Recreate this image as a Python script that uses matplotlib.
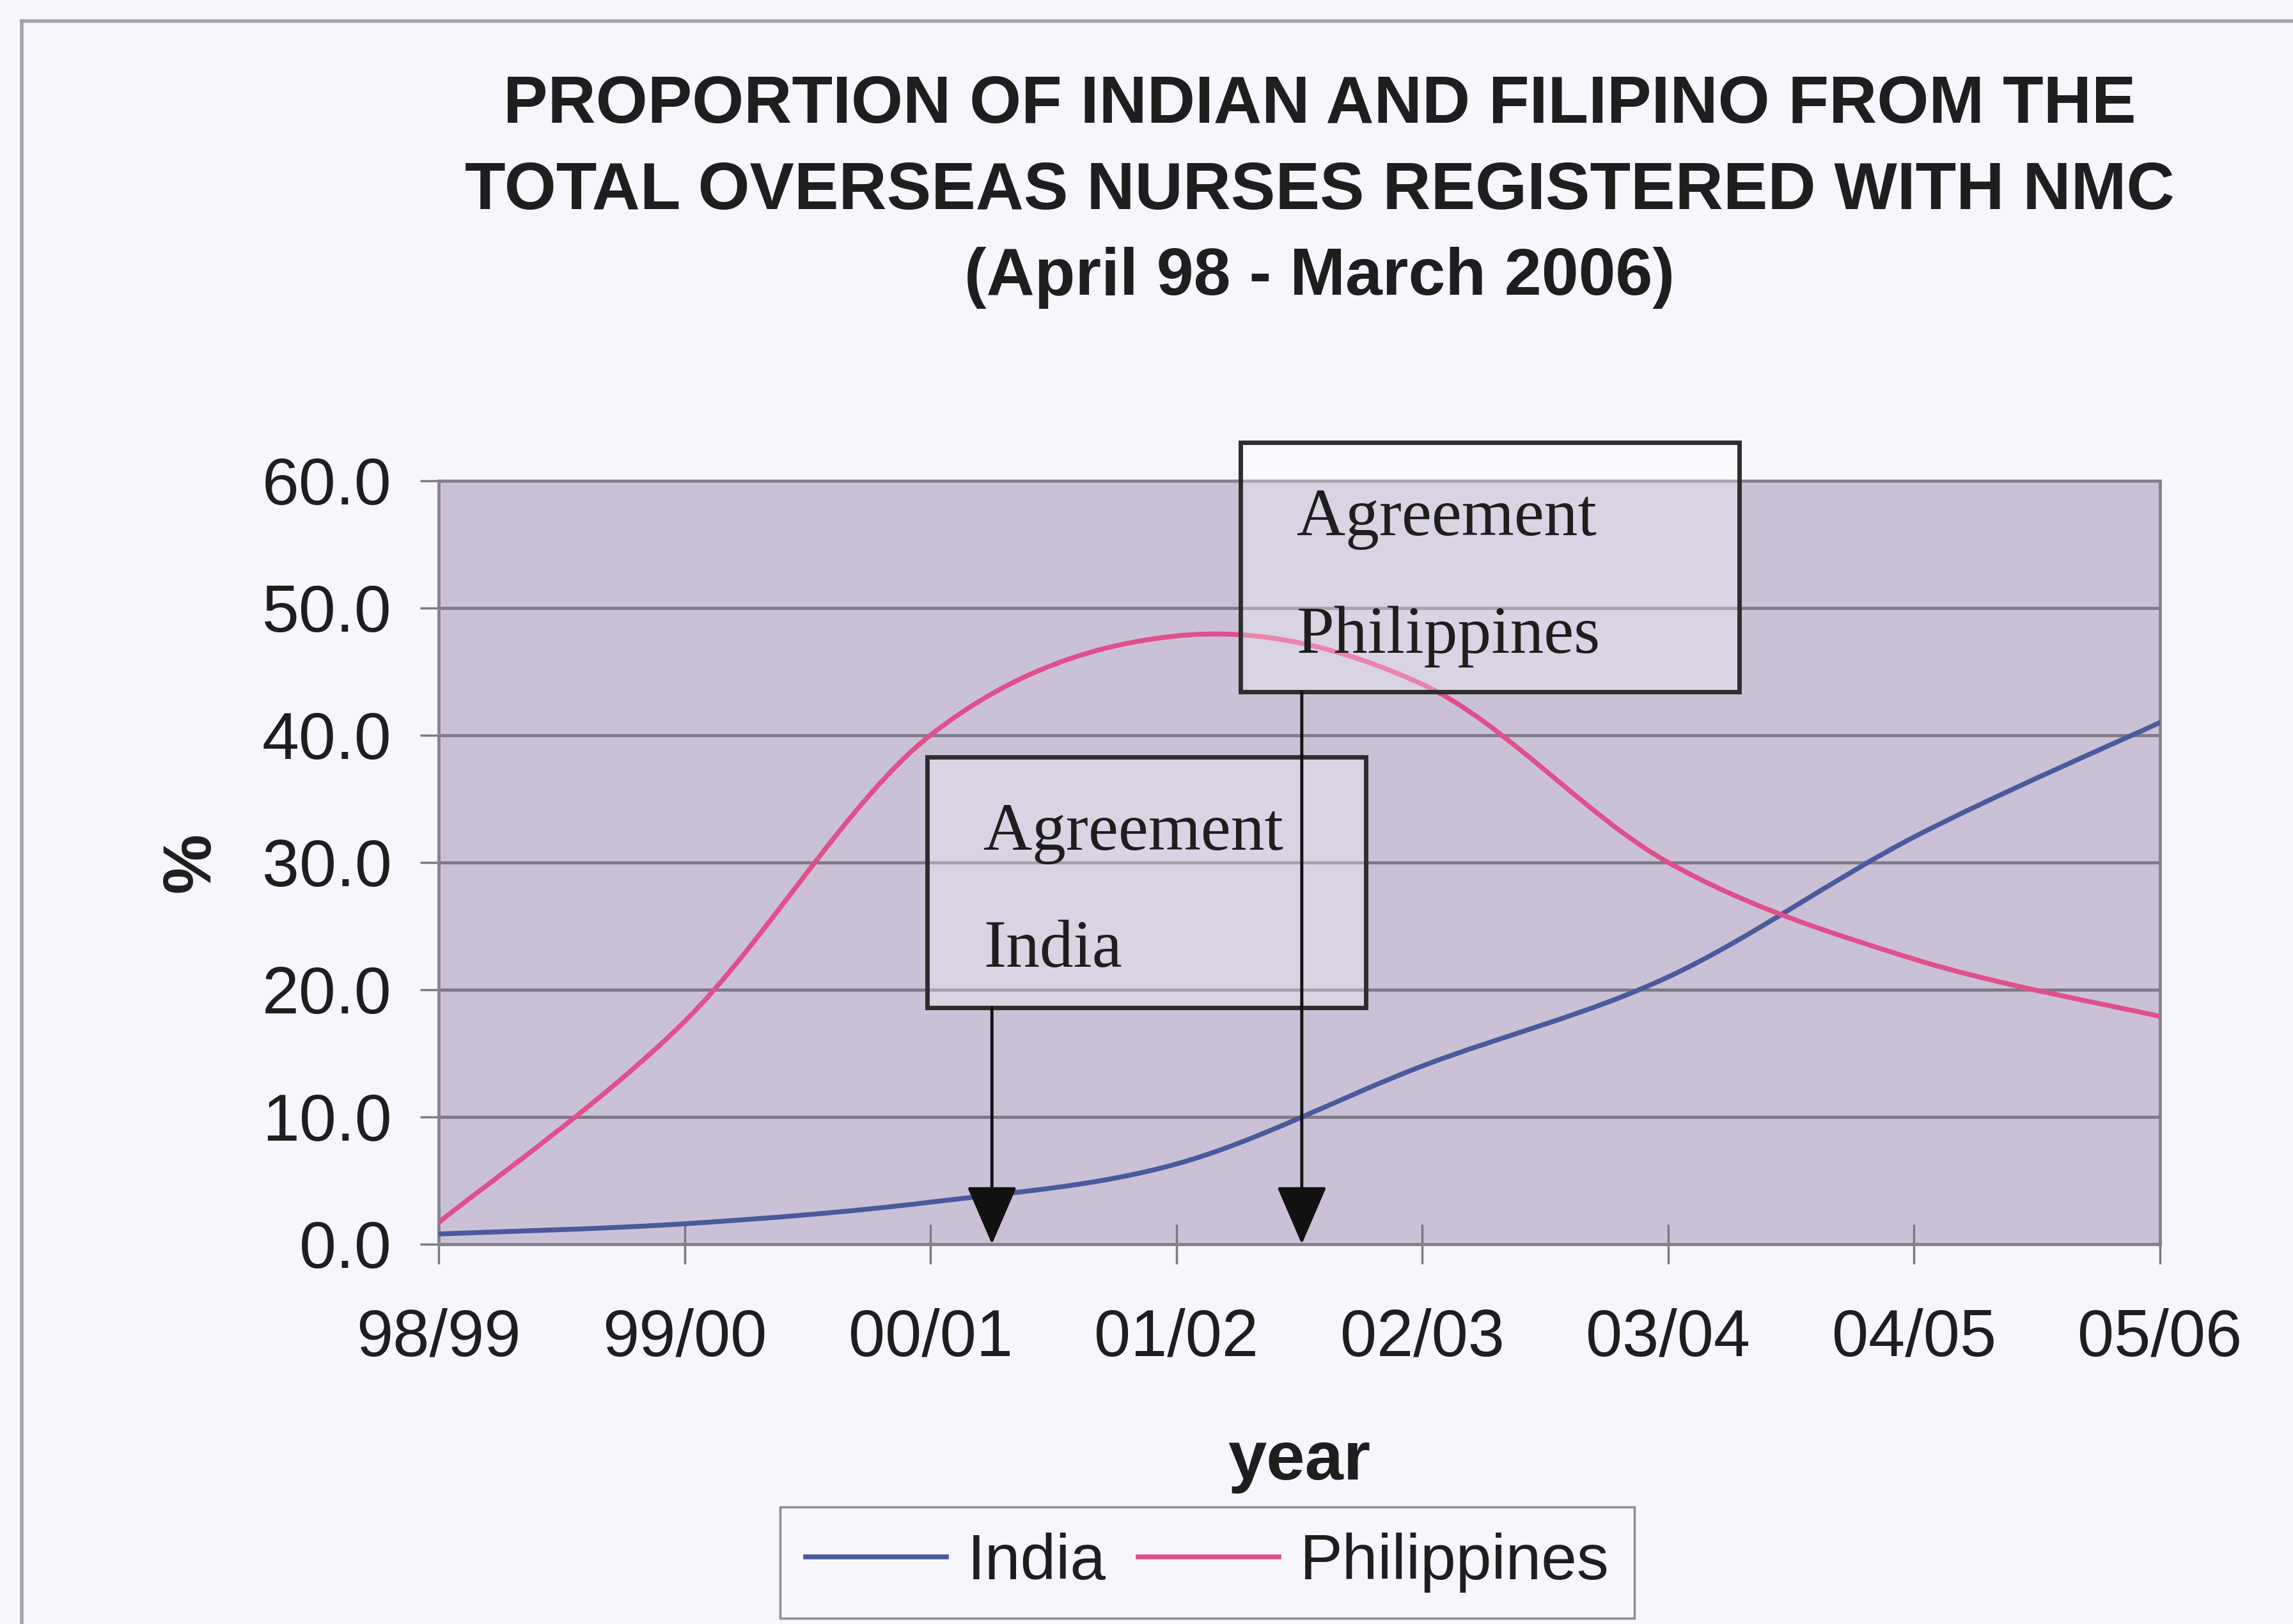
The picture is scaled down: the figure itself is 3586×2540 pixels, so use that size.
import numpy as np
import matplotlib.pyplot as plt
from matplotlib.path import Path
from matplotlib.patches import PathPatch, Rectangle
from matplotlib.lines import Line2D

# Data (% of overseas nurses registered with NMC)
years = ['98/99', '99/00', '00/01', '01/02', '02/03', '03/04', '04/05', '05/06']
india = [0.8, 1.6, 3.3, 6.3, 14.0, 21.0, 32.0, 41.0]
philippines = [1.7, 17.5, 40.0, 47.8, 44.0, 30.0, 22.4, 17.9]

# Agreements marked on the chart (position along the year axis)
agreement_names = ['India', 'Philippines']
agreement_pos = [2.25, 3.51]

india_color = '#4b5a9c'
phil_color = '#e0508a'
bg_color = '#f7f6fc'
plot_bg = '#cbc1d7'
text_color = '#1e1e1e'

plt.rcParams['font.family'] = ['Liberation Sans', 'DejaVu Sans']


def smooth_path(x, y):
    # Excel style smoothed line: Bezier segments through the data points
    pts = np.column_stack([x, y]).astype(float)
    ext = np.vstack([pts[0], pts, pts[-1]])
    verts = [pts[0]]
    codes = [Path.MOVETO]
    for i in range(len(pts) - 1):
        p0, p1, p2, p3 = ext[i], ext[i + 1], ext[i + 2], ext[i + 3]
        verts += [p1 + (p2 - p0) / 6, p2 - (p3 - p1) / 6, p2]
        codes += [Path.CURVE4] * 3
    return Path(verts, codes)


fig = plt.figure(figsize=(35.86, 25.4), dpi=100, facecolor=bg_color)
ax = fig.add_axes([0.1913, 0.2339, 0.7507, 0.4701])
ax.set_facecolor(plot_bg)

x = np.arange(len(years))
for vals, col in [(india, india_color), (philippines, phil_color)]:
    ax.add_patch(PathPatch(smooth_path(x, vals), fill=False, edgecolor=col,
                           lw=5.5, zorder=3, capstyle='round'))

ax.set_xlim(0, len(years) - 1)
ax.set_ylim(0, 60)
ax.set_yticks(np.arange(0, 61, 10))
ax.set_yticklabels([f'{v:.1f}' for v in np.arange(0, 61, 10)])
ax.set_xticks(x)
ax.set_xticklabels(years)
ax.grid(axis='y', color='#7f7a88', lw=3.5, zorder=1)
ax.set_axisbelow(True)
for s in ax.spines.values():
    s.set_color('#85828e')
    s.set_linewidth(3.5)

ax.tick_params(axis='x', direction='inout', length=44, width=2.5, color='#7a7a80',
               pad=50, labelsize=74, labelcolor=text_color)
ax.tick_params(axis='y', direction='out', length=21, width=2.5, color='#7a7a80',
               pad=32, labelsize=75, labelcolor=text_color)

ax.set_ylabel('%', fontsize=76, fontweight='bold', color=text_color)
ax.yaxis.set_label_coords(-0.125, 0.5)
ax.set_xlabel('year', fontsize=78, fontweight='bold', color=text_color, va='baseline')
ax.xaxis.set_label_coords(0.5, -0.308)

# title
title_lines = ['PROPORTION OF INDIAN AND FILIPINO FROM THE',
               'TOTAL OVERSEAS NURSES REGISTERED WITH NMC',
               '(April 98 - March 2006)']
for line, yy in zip(title_lines, [0.9245, 0.8712, 0.8185]):
    fig.text(0.5755, yy, line, ha='center', va='baseline', fontsize=75,
             fontweight='bold', color=text_color)

# agreement boxes with arrows
boxes = [(1.986, 18.6, 3.77 - 1.986, 38.3 - 18.6), (3.26, 43.4, 5.29 - 3.26, 63.0 - 43.4)]
for name, pos, (bx, by, bw, bh) in zip(agreement_names, agreement_pos, boxes):
    ax.add_patch(Rectangle((bx, by), bw, bh, facecolor='white', alpha=0.3,
                           edgecolor='none', clip_on=False, zorder=4))
    ax.add_patch(Rectangle((bx, by), bw, bh, facecolor='none', edgecolor='#2e2e2e',
                           lw=5, clip_on=False, zorder=5))
    ax.text(bx + 0.23, by + bh - 7.3, 'Agreement', fontsize=76, family='Liberation Serif',
            color=text_color, va='baseline', zorder=6, clip_on=False)
    ax.text(bx + 0.23, by + bh - 16.5, name, fontsize=76, family='Liberation Serif',
            color=text_color, va='baseline', zorder=6, clip_on=False)
    ax.annotate('', xy=(pos, 0), xytext=(pos, by),
                arrowprops=dict(arrowstyle='-|>,head_length=5.8,head_width=2.5',
                                mutation_scale=10, lw=3.5, color='#111111',
                                shrinkA=0, shrinkB=0), zorder=6)

handles = [Line2D([], [], color=india_color, lw=5.5), Line2D([], [], color=phil_color, lw=5.5)]
leg = fig.legend(handles, ['India', 'Philippines'], loc='upper center',
                 bbox_to_anchor=(0.5265, 0.072), ncol=2, fancybox=False,
                 edgecolor='#8c8c8c', facecolor=bg_color, framealpha=1, fontsize=72,
                 handlelength=2.2, handletextpad=0.33, columnspacing=0.5,
                 borderpad=0.4, borderaxespad=0)
leg.get_frame().set_linewidth(2.5)
for t in leg.get_texts():
    t.set_color(text_color)

# page border from the scanned document
fig.add_artist(Line2D([34 / 3586, 34 / 3586], [0, 1 - 33 / 2540], color='#a0a4ac',
                      lw=4, transform=fig.transFigure))
fig.add_artist(Line2D([34 / 3586, 1], [1 - 33 / 2540, 1 - 33 / 2540], color='#a0a4ac',
                      lw=4, transform=fig.transFigure))

fig.savefig('out.png', dpi=100, facecolor=bg_color)
